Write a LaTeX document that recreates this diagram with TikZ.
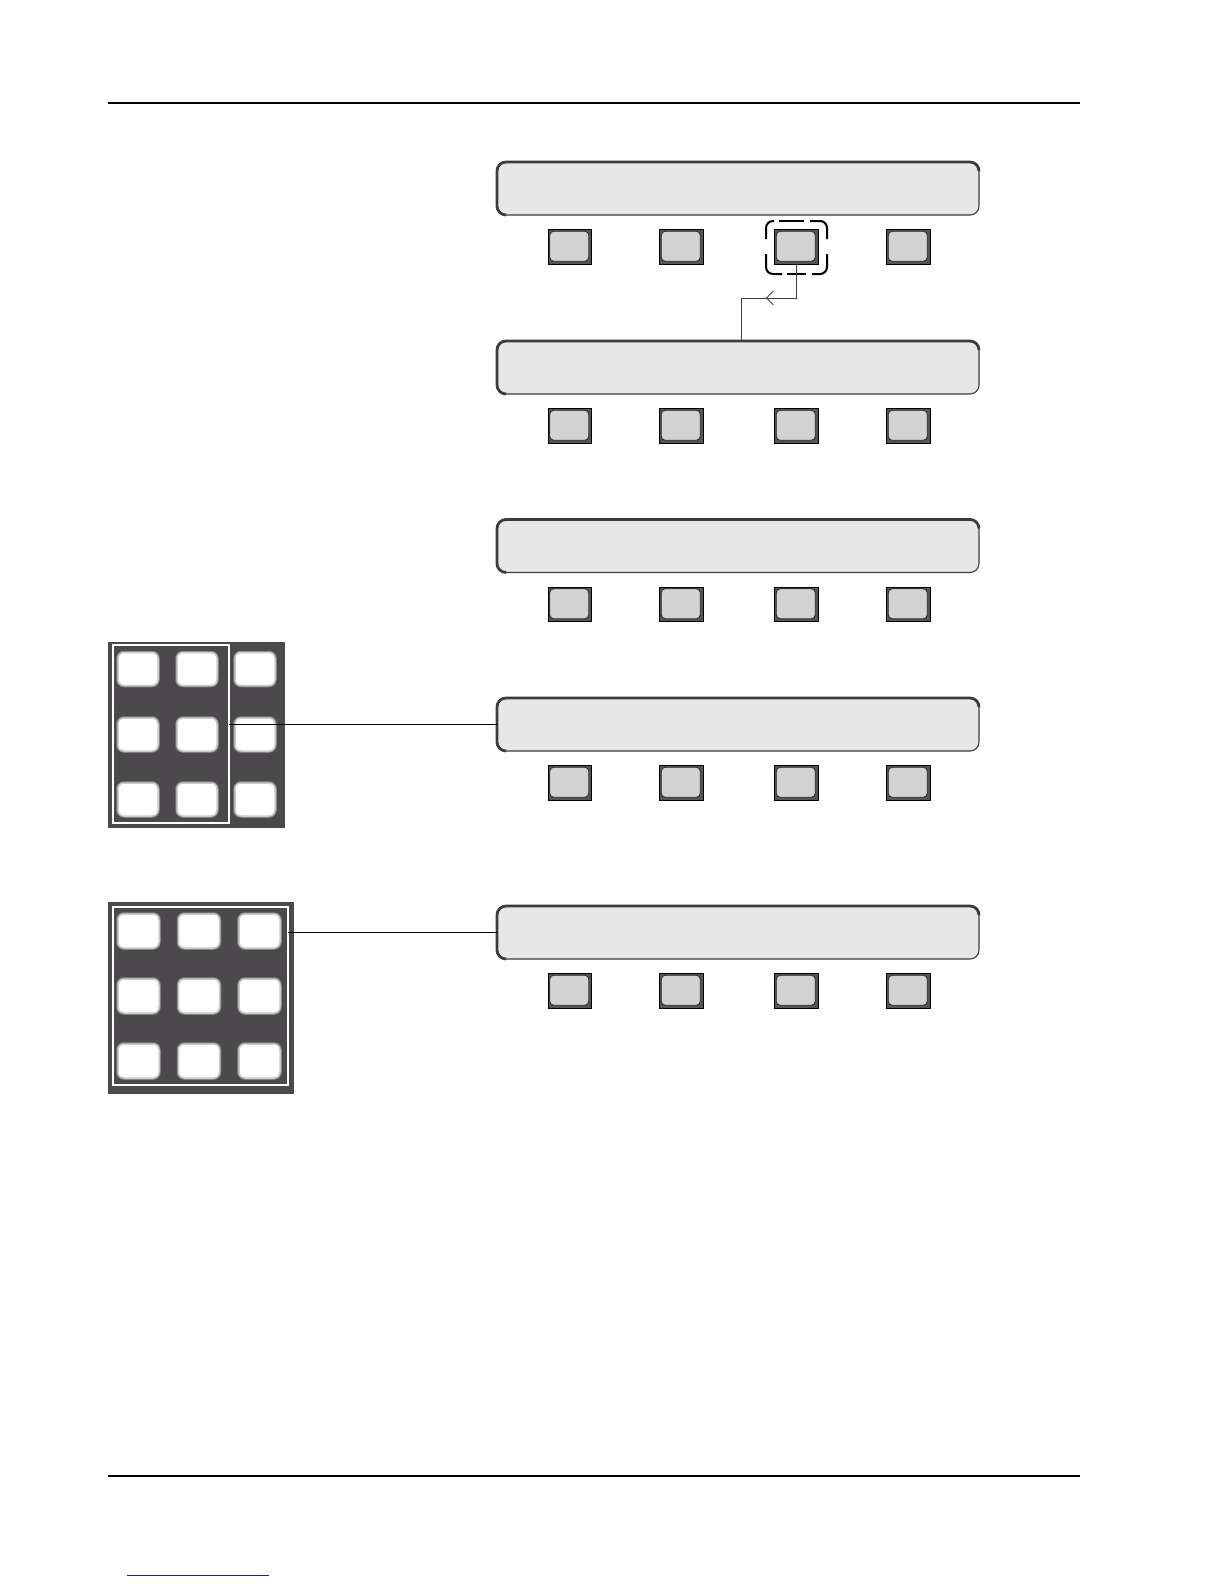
\documentclass[tikz,border=0pt]{standalone}
\usetikzlibrary{calc,arrows.meta,decorations.markings}
\definecolor{barfill}{HTML}{E7E7E7}
\definecolor{barline}{HTML}{3C3C3C}
\definecolor{btnout}{HTML}{555555}
\definecolor{btnin}{HTML}{D3D3D3}
\definecolor{padbg}{HTML}{4B494B}
\definecolor{linkblue}{HTML}{1E1E96}
\begin{document}
\begin{tikzpicture}[x=1pt,y=-1pt,
  bar/.style={rectangle, rounded corners=9pt, minimum width=482pt, minimum height=53pt,
    inner sep=0pt, outer sep=0pt, fill=barfill, draw=barline, line width=1.1pt},
  barthick/.style={draw=barline, line width=2.8pt, rounded corners=9pt},
  btn/.style={rectangle, minimum width=43.5pt, minimum height=34.5pt, inner sep=0pt,
    outer sep=0pt, fill=btnout, draw=black, line width=0.8pt},
  btninner/.style={fill=btnin, draw=black!85, line width=0.8pt, rounded corners=4pt},
  selbox/.style={rectangle, minimum width=61pt, minimum height=53pt, inner sep=0pt, outer sep=0pt},
  selline/.style={draw=black, line width=2pt, rounded corners=7pt},
  conn/.style={draw=black!75, line width=0.9pt},
  link/.style={draw=black, line width=1pt},
  pad/.style={rectangle, fill=padbg, inner sep=0pt, outer sep=0pt},
  padframe/.style={rectangle, draw=white, line width=1.5pt, inner sep=0pt, outer sep=0pt},
  padkey/.style={rectangle, rounded corners=6pt, fill=white, draw=black!20, line width=1.5pt,
    inner sep=0pt, outer sep=0pt, preaction={draw=black!48, line width=3.5pt}},
  rule/.style={draw=black, line width=1.3pt}
]
\useasboundingbox (0,0) rectangle (1224,1584);

% page rules
\draw[rule] (108,103) -- (1080,103);
\draw[rule] (108,1476) -- (1080,1476);
\draw[draw=linkblue, line width=1pt] (127,1575) -- (269,1575);

% display bars and their soft keys
\foreach \i/\y in {1/188.5, 2/367.5, 3/546, 4/724.5, 5/932.5} {
  \node[bar] (b\i) at (738,\y) {};
  \draw[barthick] ($(b\i.south west)+(9,0)$) -- (b\i.south west) -- (b\i.north west)
     -- (b\i.north east) -- ($(b\i.north east)+(0,9)$);
  \foreach \c/\x in {1/570, 2/681.5, 3/796.5, 4/908.5} {
    \node[btn] (k\i\c) at (\x,\y+58.5) {};
    \draw[btninner] ($(k\i\c.north west)+(1.5,1.5)$) rectangle ($(k\i\c.south east)+(-3,-3)$);
  }
}

% selection box (dashed, rounded) around the third key
\node[selbox] (sel) at ($(k13.center)+(0,0.5)$) {};
\draw[selline] ($(sel.north west)+(0,18)$) -- (sel.north west) -- ($(sel.north west)+(8,0)$);
\draw[selline] ($(sel.north west)+(13,0)$) -- ($(sel.north west)+(38,0)$);
\draw[selline] ($(sel.north east)+(-17,0)$) -- (sel.north east) -- ($(sel.north east)+(0,18)$);
\draw[selline] ($(sel.south east)+(0,-20)$) -- (sel.south east) -- ($(sel.south east)+(-15,0)$);
\draw[selline] ($(sel.south east)+(-21,0)$) -- ($(sel.south east)+(-40,0)$);
\draw[selline] ($(sel.south west)+(16,0)$) -- (sel.south west) -- ($(sel.south west)+(0,-20)$);

% connector
\coordinate (turn) at (741,298);
\draw[conn, postaction={decorate}, decoration={markings,
   mark=at position 64.5pt with {\arrow{Straight Barb[length=7pt,width=14pt,line width=0.9pt]}}}]
   (k13.south) |- (turn) -- (turn |- b2.north);

% keypad 1
\node[pad, minimum width=177pt, minimum height=186pt] (pad1) at (196.5,735) {};
\foreach \r/\y in {1/669, 2/734.5, 3/799.5} {
  \foreach \c/\x in {1/138, 2/197, 3/255} {
    \node[padkey, minimum width=40pt, minimum height=33pt] (p1k\r\c) at (\x,\y) {};
  }
}
\node[padframe, minimum width=116pt, minimum height=178pt] (fr1) at (171,734) {};
\draw[link] (fr1.east |- b4.west) -- (b4.west);

% keypad 2
\node[pad, minimum width=186pt, minimum height=192pt] (pad2) at (201,998) {};
\foreach \r/\y in {1/931, 2/996, 3/1061} {
  \foreach \c/\x in {1/138.5, 2/199, 3/259.5} {
    \node[padkey, minimum width=41pt, minimum height=34pt] (p2k\r\c) at (\x,\y) {};
  }
}
\node[padframe, minimum width=175pt, minimum height=178pt] (fr2) at (200.5,996) {};
\draw[link] (fr2.east |- b5.west) -- (b5.west);
\end{tikzpicture}
\end{document}
